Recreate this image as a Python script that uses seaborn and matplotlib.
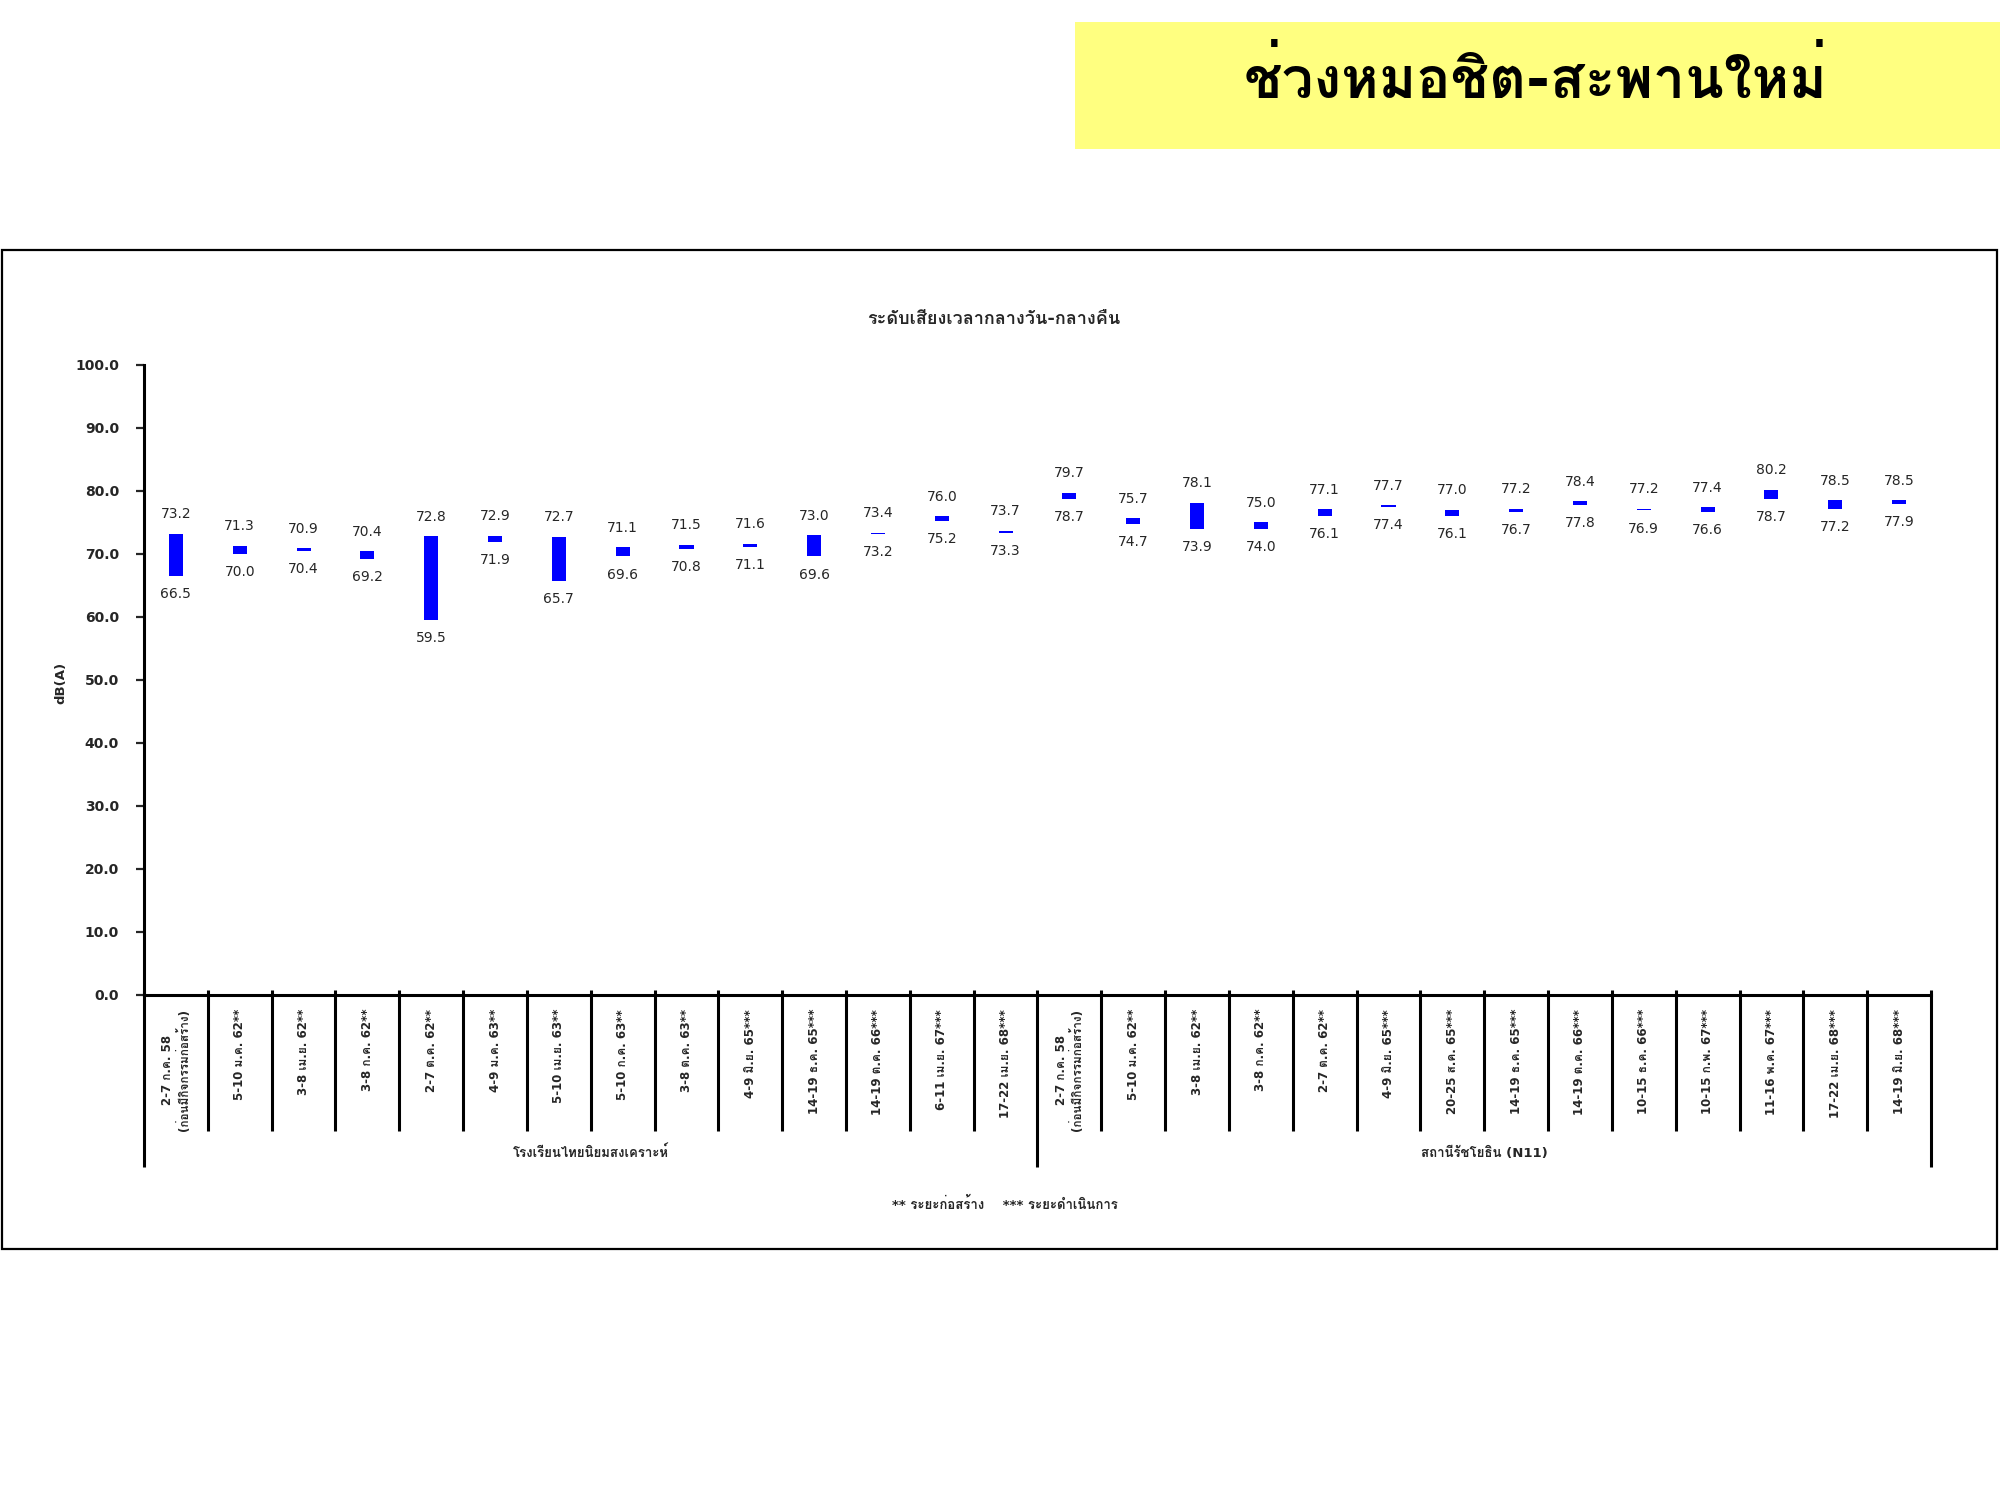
import numpy as np
import pandas as pd
import matplotlib
matplotlib.use("Agg")
import matplotlib.pyplot as plt
from matplotlib.patches import Rectangle
from matplotlib import font_manager
from matplotlib.ft2font import FT2Font
import seaborn as sns

# ---------------- data ----------------
page_title = "ช่วงหมอชิต-สะพานใหม่"
chart_title = "ระดับเสียงเวลากลางวัน-กลางคืน"
y_label = "dB(A)"
footnote = "** ระยะก่อสร้าง    *** ระยะดำเนินการ"

group_names = ["โรงเรียนไทยนิยมสงเคราะห์", "สถานีรัชโยธิน (N11)"]

labels_group1 = [
    "2-7 ก.ค. 58\n(ก่อนมีกิจกรรมก่อสร้าง)", "5-10 ม.ค. 62**", "3-8 เม.ย. 62**",
    "3-8 ก.ค. 62**", "2-7 ต.ค. 62**", "4-9 ม.ค. 63**", "5-10 เม.ย. 63**",
    "5-10 ก.ค. 63**", "3-8 ต.ค. 63**", "4-9 มิ.ย. 65***", "14-19 ธ.ค. 65***",
    "14-19 ต.ค. 66***", "6-11 เม.ย. 67***", "17-22 เม.ย. 68***",
]
labels_group2 = [
    "2-7 ก.ค. 58\n(ก่อนมีกิจกรรมก่อสร้าง)", "5-10 ม.ค. 62**", "3-8 เม.ย. 62**",
    "3-8 ก.ค. 62**", "2-7 ต.ค. 62**", "4-9 มิ.ย. 65***", "20-25 ส.ค. 65***",
    "14-19 ธ.ค. 65***", "14-19 ต.ค. 66***", "10-15 ธ.ค. 66***", "10-15 ก.พ. 67***",
    "11-16 พ.ค. 67***", "17-22 เม.ย. 68***", "14-19 มิ.ย. 68***",
]

high_group1 = [73.2, 71.3, 70.9, 70.4, 72.8, 72.9, 72.7, 71.1, 71.5, 71.6, 73.0, 73.4, 76.0, 73.7]
low_group1 = [66.5, 70.0, 70.4, 69.2, 59.5, 71.9, 65.7, 69.6, 70.8, 71.1, 69.6, 73.2, 75.2, 73.3]
high_group2 = [79.7, 75.7, 78.1, 75.0, 77.1, 77.7, 77.0, 77.2, 78.4, 77.2, 77.4, 80.2, 78.5, 78.5]
low_group2 = [78.7, 74.7, 73.9, 74.0, 76.1, 77.4, 76.1, 76.7, 77.8, 76.9, 76.6, 78.7, 77.2, 77.9]

y_ticks = [0, 10, 20, 30, 40, 50, 60, 70, 80, 90, 100]

# ---------------- fonts ----------------
def thai_fonts():
    names = []
    for f in font_manager.fontManager.ttflist:
        try:
            cm = FT2Font(f.fname).get_charmap()
        except Exception:
            continue
        if 0x0E01 in cm and 0x0E48 in cm and f.name not in names:
            names.append(f.name)
    return names

sns.set_style("white")
tf = thai_fonts()
fam = ["DejaVu Sans"] + tf[:2]
plt.rcParams["font.family"] = fam
plt.rcParams["axes.unicode_minus"] = False

# ---------------- frame ----------------
labels = labels_group1 + labels_group2
highs = high_group1 + high_group2
lows = low_group1 + low_group2
n1 = len(labels_group1)
n = len(labels)

df = pd.DataFrame({
    "pos": np.arange(n),
    "label": labels,
    "high": highs,
    "low": lows,
})
df["span"] = df["high"] - df["low"]

fig = plt.figure(figsize=(20, 15), dpi=100)
fig.patch.set_facecolor("white")

# yellow title box
fig.patches.append(Rectangle((0.5375, 0.9007), 0.4625, 0.0846, transform=fig.transFigure,
                             facecolor="#FFFF80", edgecolor="none", zorder=0))
fig.text(0.768, 0.946, page_title, ha="center", va="center", fontsize=41,
         fontweight="bold", color="black")

# chart frame
fig.patches.append(Rectangle((0.0008, 0.1673), 0.9977, 0.666, transform=fig.transFigure,
                             facecolor="none", edgecolor="black", linewidth=1.6, zorder=1))

ax = fig.add_axes([0.072, 0.3367, 0.8935, 0.42])

sns.barplot(data=df, x="pos", y="span", bottom=df["low"].to_numpy(), color="#0000FF",
            saturation=1, width=0.22, errorbar=None, ax=ax, linewidth=0)

for _, r in df.iterrows():
    ax.annotate(f"{r['high']:.1f}", (r["pos"], r["high"]), xytext=(0, 14),
                textcoords="offset points", ha="center", va="center", fontsize=10)
    ax.annotate(f"{r['low']:.1f}", (r["pos"], r["low"]), xytext=(0, -13),
                textcoords="offset points", ha="center", va="center", fontsize=10)

ax.set_xlim(-0.5, n - 0.5)
ax.set_ylim(0, 100)
ax.set_yticks(y_ticks)
ax.set_yticklabels([f"{v:.1f}" for v in y_ticks], fontsize=10, fontweight="bold")
ax.tick_params(axis="y", direction="out", length=6, width=1.6, pad=12, left=True)
ax.set_xticks([])
ax.set_xlabel("")
ax.set_ylabel("")
for s in ["top", "right"]:
    ax.spines[s].set_visible(False)
for s in ["left", "bottom"]:
    ax.spines[s].set_color("black")
    ax.spines[s].set_linewidth(2.2)

fig.text(0.497, 0.7873, chart_title, ha="center", va="center", fontsize=13, fontweight="bold")
fig.text(0.0305, 0.545, y_label, rotation=90, ha="center", va="center",
         fontsize=9.5, fontweight="bold")

# category labels and separators
tr = ax.get_xaxis_transform()
for i, lab in enumerate(labels):
    ax.text(i, -0.022, lab, rotation=90, ha="center", va="top", multialignment="center",
            fontsize=8.5, fontweight="bold", transform=tr, clip_on=False)
for b in np.arange(-0.5, n, 1.0):
    is_group = abs(b + 0.5) < 1e-9 or abs(b - (n1 - 0.5)) < 1e-9 or abs(b - (n - 0.5)) < 1e-9
    bottom = -0.273 if is_group else -0.216
    ax.plot([b, b], [0.008, bottom], color="black", lw=2.2, transform=tr, clip_on=False,
            solid_capstyle="butt")

ax.text((n1 - 1) / 2, -0.251, group_names[0], ha="center", va="center", fontsize=9.5,
        fontweight="bold", transform=tr, clip_on=False)
ax.text(n1 + (n - n1 - 1) / 2, -0.251, group_names[1], ha="center", va="center",
        fontsize=9.5, fontweight="bold", transform=tr, clip_on=False)

fig.text(0.5025, 0.197, footnote, ha="center", va="center", fontsize=9.5, fontweight="bold")

fig.savefig("out.png", dpi=100, facecolor="white")
